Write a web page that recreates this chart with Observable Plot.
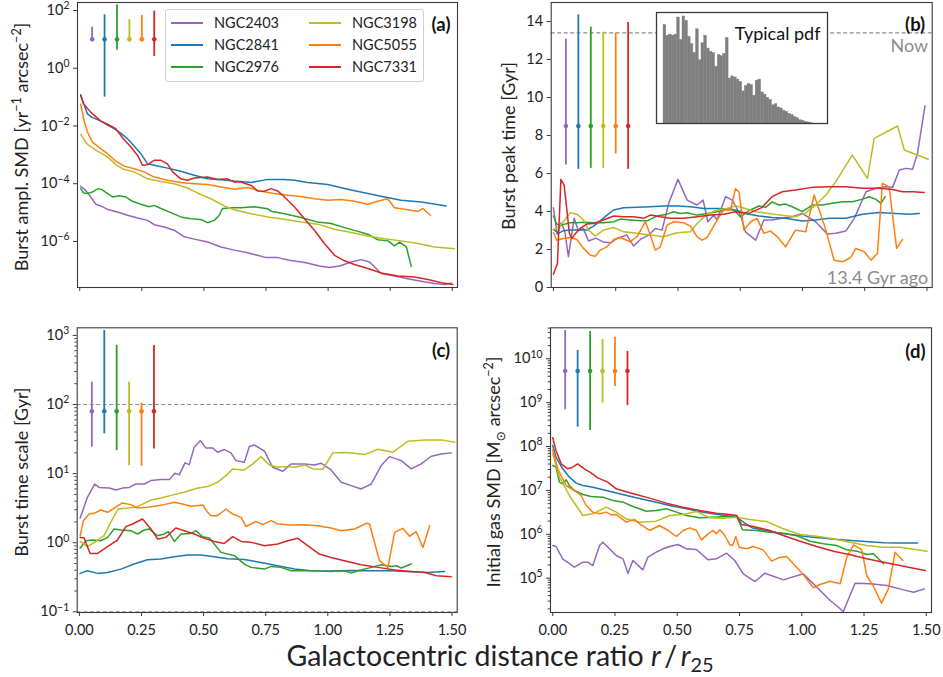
<!DOCTYPE html>
<html><head><meta charset="utf-8">
<script src="https://cdn.jsdelivr.net/npm/d3@7"></script>
<script src="https://cdn.jsdelivr.net/npm/@observablehq/plot@0.6"></script>
<style>
body{margin:0;background:#fff;}
#fig{position:relative;width:943px;height:677px;font-family:Lato,"DejaVu Sans",sans-serif;color:#222;overflow:hidden;background:#fff}
#fig svg{position:absolute;overflow:visible}
.ylab{position:absolute;white-space:nowrap;font-size:18px;transform:translate(-50%,-50%) rotate(-90deg);line-height:1}
.ylab sup,.ylab sub{font-size:0.7em}
#xlab{position:absolute;left:500px;top:657px;transform:translate(-50%,-50%);font-size:28.5px;white-space:nowrap}
#xlab sub{font-size:0.7em}
#legend{position:absolute;left:165px;top:9px;width:257px;height:71px;border:1px solid #d0d0d0;border-radius:3px;background:rgba(255,255,255,0.85)}
.lg{position:absolute;font-size:14.5px;line-height:1;transform:translateY(-50%);white-space:nowrap}
.sw{position:absolute;height:2px;transform:translateY(-50%)}
</style></head>
<body><div id="fig"></div>
<script>
// ---------- DATA ----------
const names  = ["NGC2403","NGC2841","NGC2976","NGC3198","NGC5055","NGC7331"];
const colors = ["#9467bd","#1f77b4","#2ca02c","#bcbd22","#ff7f0e","#d62728"];
const xTicks = [0, 0.25, 0.5, 0.75, 1.0, 1.25, 1.5];
const errX = [0.05, 0.10, 0.15, 0.20, 0.25, 0.30];

// (a) Burst amplitude SMD, values are log10
const aP = [[0.004,-4.09],[0.024,-4.23],[0.044,-4.46],[0.065,-4.71],[0.085,-4.77],[0.112,-4.89],[0.152,-4.98],[0.192,-5.09],[0.233,-5.19],[0.273,-5.27],[0.3,-5.42],[0.34,-5.5],[0.38,-5.61],[0.421,-5.84],[0.461,-5.92],[0.515,-6.02],[0.569,-6.19],[0.622,-6.3],[0.676,-6.39],[0.716,-6.48],[0.75,-6.56],[0.797,-6.56],[0.844,-6.65],[0.911,-6.74],[0.965,-6.85],[1.006,-6.9],[1.046,-6.85],[1.093,-6.71],[1.133,-6.63],[1.167,-6.71],[1.214,-7.11],[1.267,-7.2],[1.321,-7.29],[1.375,-7.38],[1.429,-7.46],[1.469,-7.49],[1.496,-7.44]];
const aB = [[0.004,-0.95],[0.031,-1.58],[0.05,-1.7],[0.085,-1.83],[0.112,-1.97],[0.138,-2.09],[0.165,-2.25],[0.192,-2.44],[0.22,-2.7],[0.246,-2.96],[0.273,-3.31],[0.313,-3.39],[0.353,-3.46],[0.407,-3.57],[0.461,-3.71],[0.515,-3.83],[0.569,-3.86],[0.622,-3.91],[0.69,-3.96],[0.757,-3.85],[0.824,-3.85],[0.864,-3.88],[0.918,-3.96],[0.999,-4.03],[1.079,-4.19],[1.16,-4.34],[1.227,-4.46],[1.294,-4.57],[1.375,-4.63],[1.476,-4.77]];
const aG = [[0.004,-4.17],[0.015,-4.32],[0.031,-4.34],[0.051,-4.29],[0.074,-4.17],[0.091,-4.21],[0.112,-4.34],[0.132,-4.46],[0.159,-4.42],[0.185,-4.46],[0.212,-4.61],[0.246,-4.71],[0.28,-4.8],[0.3,-4.75],[0.327,-4.86],[0.367,-5.0],[0.407,-5.15],[0.448,-5.21],[0.488,-5.24],[0.515,-5.35],[0.542,-5.27],[0.562,-5.09],[0.575,-4.86],[0.609,-4.83],[0.649,-4.83],[0.703,-4.8],[0.757,-4.87],[0.77,-4.95],[0.824,-5.04],[0.891,-5.17],[0.958,-5.33],[1.012,-5.38],[1.066,-5.52],[1.12,-5.65],[1.16,-5.75],[1.2,-5.94],[1.241,-5.98],[1.267,-6.15],[1.288,-6.02],[1.315,-6.19],[1.335,-6.86]];
const aY = [[0.004,-2.29],[0.031,-2.64],[0.071,-2.87],[0.112,-3.07],[0.145,-3.34],[0.179,-3.51],[0.219,-3.59],[0.273,-3.83],[0.327,-3.92],[0.38,-4.0],[0.434,-4.15],[0.474,-4.32],[0.528,-4.52],[0.582,-4.77],[0.622,-4.9],[0.69,-5.04],[0.757,-5.15],[0.824,-5.23],[0.891,-5.33],[0.958,-5.4],[1.026,-5.58],[1.093,-5.69],[1.16,-5.81],[1.227,-5.91],[1.294,-5.98],[1.362,-6.07],[1.429,-6.19],[1.509,-6.25]];
const aN = [[0.004,-1.25],[0.017,-1.81],[0.031,-2.21],[0.051,-2.56],[0.085,-2.79],[0.112,-2.96],[0.145,-3.22],[0.179,-3.39],[0.219,-3.48],[0.259,-3.59],[0.3,-3.77],[0.353,-3.88],[0.407,-3.96],[0.461,-4.0],[0.515,-4.03],[0.569,-4.11],[0.622,-4.19],[0.676,-4.13],[0.73,-4.26],[0.784,-4.34],[0.837,-4.4],[0.891,-4.44],[0.945,-4.52],[0.999,-4.57],[1.052,-4.55],[1.106,-4.61],[1.16,-4.71],[1.2,-4.61],[1.24,-4.52],[1.267,-4.83],[1.321,-4.9],[1.362,-4.96],[1.382,-4.86],[1.411,-5.09]];
const aR = [[0.004,-0.92],[0.015,-1.23],[0.044,-1.52],[0.085,-1.83],[0.112,-1.94],[0.145,-2.09],[0.172,-2.41],[0.206,-2.73],[0.233,-3.02],[0.253,-3.36],[0.273,-3.34],[0.3,-3.19],[0.327,-3.19],[0.353,-3.31],[0.374,-3.59],[0.407,-3.83],[0.434,-3.88],[0.461,-3.8],[0.515,-3.77],[0.555,-3.85],[0.595,-3.83],[0.622,-3.94],[0.649,-3.94],[0.69,-4.06],[0.716,-4.25],[0.743,-4.26],[0.77,-4.17],[0.797,-4.25],[0.824,-4.46],[0.864,-4.8],[0.905,-5.21],[0.945,-5.61],[0.985,-6.07],[1.026,-6.48],[1.066,-6.67],[1.106,-6.8],[1.16,-6.94],[1.214,-7.09],[1.281,-7.2],[1.348,-7.23],[1.402,-7.32],[1.456,-7.43],[1.503,-7.49]];
const errA = {c: 1, lo: [1, -1.0, 0.62, 1, 1, 0.41], hi: [1.42, 1.85, 2.2, 1.69, 1.83, 1.98]};
const aTicks = [-6, -4, -2, 0, 2];

// (b) Burst peak time [Gyr]
const bP = [[0,4.2],[0.015,2.8],[0.03,3.4],[0.045,3.0],[0.06,1.62],[0.083,3.64],[0.1,3.0],[0.12,3.1],[0.141,2.45],[0.17,2.6],[0.2,2.4],[0.23,2.35],[0.255,2.58],[0.295,2.76],[0.322,2.18],[0.349,2.53],[0.382,2.76],[0.409,3.11],[0.436,3.02],[0.463,4.43],[0.5,5.69],[0.537,4.6],[0.577,4.34],[0.601,4.6],[0.62,3.46],[0.644,3.81],[0.657,3.55],[0.691,4.78],[0.718,4.6],[0.751,3.81],[0.771,2.93],[0.812,2.49],[0.845,3.55],[0.878,3.55],[0.919,3.64],[0.959,3.72],[0.999,3.9],[1.053,3.46],[1.1,2.81],[1.134,2.85],[1.174,2.97],[1.208,3.64],[1.255,5.04],[1.295,5.22],[1.335,5.3],[1.362,5.27],[1.389,6.18],[1.415,6.27],[1.442,6.22],[1.462,7.06],[1.492,9.56]];
const bB = [[0,3.06],[0.02,2.85],[0.04,2.99],[0.067,3.02],[0.107,3.02],[0.134,3.02],[0.161,3.23],[0.188,3.51],[0.215,3.81],[0.242,4.08],[0.282,4.2],[0.335,4.22],[0.389,4.25],[0.443,4.29],[0.496,4.29],[0.55,4.25],[0.604,4.16],[0.657,4.16],[0.711,4.13],[0.751,4.0],[0.771,3.9],[0.825,3.76],[0.878,3.69],[0.932,3.64],[0.999,3.5],[1.053,3.55],[1.107,3.64],[1.174,3.64],[1.241,3.85],[1.308,3.95],[1.375,3.9],[1.429,3.85],[1.469,3.9]];
const bG = [[0,3.76],[0.013,3.34],[0.027,3.28],[0.047,3.34],[0.067,3.41],[0.094,3.41],[0.121,3.43],[0.161,3.41],[0.201,3.41],[0.242,3.46],[0.268,3.6],[0.309,3.55],[0.349,3.51],[0.376,3.51],[0.416,3.76],[0.456,3.86],[0.483,3.99],[0.51,3.9],[0.537,3.93],[0.577,3.81],[0.617,3.9],[0.657,3.99],[0.698,4.11],[0.724,4.08],[0.751,3.72],[0.785,4.04],[0.825,4.29],[0.852,4.22],[0.878,4.51],[0.905,4.34],[0.932,4.39],[0.959,4.25],[0.999,3.99],[1.04,4.34],[1.08,4.34],[1.12,4.43],[1.161,4.51],[1.201,4.51],[1.241,4.65],[1.268,4.78],[1.295,4.64],[1.315,4.43],[1.332,4.78]];
const bY = [[0,3.02],[0.027,3.28],[0.047,3.58],[0.067,3.93],[0.094,3.86],[0.121,3.55],[0.141,3.02],[0.168,2.71],[0.201,3.02],[0.242,3.16],[0.282,2.93],[0.335,2.85],[0.389,2.76],[0.443,2.67],[0.496,2.88],[0.55,2.93],[0.577,3.37],[0.617,3.86],[0.657,4.08],[0.698,4.16],[0.731,4.3],[0.771,4.16],[0.812,3.99],[0.865,3.9],[0.932,3.78],[0.972,3.72],[1.013,3.93],[1.053,4.34],[1.094,4.87],[1.134,5.57],[1.2,6.97],[1.261,5.74],[1.288,7.85],[1.382,8.5],[1.409,7.24],[1.505,6.75]];
const bN = [[0,2.88],[0.013,2.49],[0.04,2.58],[0.067,2.63],[0.094,2.53],[0.121,2.06],[0.148,1.7],[0.168,1.65],[0.188,1.97],[0.215,2.14],[0.242,2.53],[0.268,2.63],[0.309,2.41],[0.335,2.67],[0.369,3.46],[0.389,2.76],[0.409,1.97],[0.429,2.14],[0.456,3.28],[0.483,3.46],[0.523,3.41],[0.55,3.23],[0.577,2.67],[0.597,2.49],[0.617,2.63],[0.657,3.55],[0.684,4.08],[0.711,4.08],[0.731,5.2],[0.745,5.04],[0.765,3.02],[0.792,3.46],[0.818,3.64],[0.845,2.85],[0.872,2.97],[0.899,2.67],[0.932,2.14],[0.972,3.02],[1.013,2.93],[1.047,4.87],[1.094,3.02],[1.127,1.44],[1.161,1.35],[1.194,1.58],[1.214,2.06],[1.248,1.88],[1.275,1.44],[1.301,1.79],[1.321,5.48],[1.348,5.3],[1.378,2.06],[1.402,2.53]];
const bR = [[0,0.7],[0.016,1.26],[0.03,5.69],[0.043,5.39],[0.054,4.07],[0.064,2.85],[0.074,2.58],[0.087,2.81],[0.107,3.11],[0.134,3.34],[0.161,3.37],[0.201,3.55],[0.242,3.76],[0.282,3.72],[0.322,3.72],[0.362,3.64],[0.389,3.81],[0.429,3.72],[0.47,3.64],[0.523,3.64],[0.577,3.72],[0.631,3.81],[0.684,3.86],[0.731,3.99],[0.785,3.9],[0.838,4.22],[0.878,4.78],[0.919,5.04],[0.972,5.13],[1.04,5.27],[1.107,5.3],[1.174,5.3],[1.241,5.22],[1.308,5.22],[1.362,5.16],[1.402,5.04],[1.442,5.04],[1.489,5.0]];
const errB = {c: 8.5, lo: [6.45, 6.22, 6.27, 6.27, 7.03, 6.22], hi: [13.07, 14.35, 13.7, 13.44, 13.39, 13.95]};
const bTicks = [0, 2, 4, 6, 8, 10, 12, 14];
const nowAge = 13.4;
const pdfBins = [92,82,83,82,83,99,78,100,96,81,74,66,88,59,75,82,70,67,66,53,64,63,65,80,42,44,43,41,39,30,35,37,36,26,40,41,29,27,24,22,17,18,15,14,12,11,9,8,6,5,3,2.5,1.5,1,0.4];

// (c) Burst time scale [Gyr], log10
const cP = [[0.003,0.357],[0.032,0.657],[0.062,0.85],[0.079,0.8],[0.12,0.792],[0.147,0.763],[0.173,0.79],[0.2,0.8],[0.227,0.85],[0.261,0.85],[0.288,0.899],[0.328,0.913],[0.362,0.913],[0.384,1.005],[0.402,0.981],[0.425,1.155],[0.442,1.13],[0.462,1.38],[0.487,1.478],[0.509,1.372],[0.536,1.372],[0.556,1.309],[0.583,1.348],[0.61,1.3],[0.63,1.188],[0.664,1.164],[0.684,1.391],[0.704,1.415],[0.745,1.324],[0.778,1.092],[0.819,1.034],[0.852,1.14],[0.906,1.14],[0.946,1.125],[0.973,1.15],[1.013,1.053],[1.054,0.874],[1.094,0.826],[1.134,0.778],[1.175,0.85],[1.215,1.116],[1.249,1.246],[1.296,1.188],[1.336,1.068],[1.376,1.14],[1.417,1.251],[1.457,1.285],[1.497,1.3]];
const cB = [[0.003,-0.444],[0.032,-0.406],[0.073,-0.444],[0.113,-0.43],[0.167,-0.382],[0.22,-0.309],[0.274,-0.246],[0.328,-0.237],[0.382,-0.203],[0.435,-0.179],[0.489,-0.179],[0.543,-0.203],[0.597,-0.232],[0.664,-0.242],[0.731,-0.285],[0.798,-0.333],[0.866,-0.382],[0.933,-0.406],[1.013,-0.411],[1.094,-0.401],[1.175,-0.406],[1.255,-0.406],[1.336,-0.42],[1.403,-0.43],[1.47,-0.415]];
const cG = [[0.003,-0.077],[0.026,0.029],[0.052,0.039],[0.086,0.029],[0.113,0.077],[0.14,0.198],[0.167,0.184],[0.207,0.174],[0.234,0.126],[0.261,0.184],[0.281,0.198],[0.315,0.101],[0.341,0.126],[0.358,0.159],[0.382,0.019],[0.409,0.126],[0.449,0.135],[0.469,0.174],[0.496,0.087],[0.523,0.068],[0.57,-0.14],[0.624,-0.188],[0.664,-0.309],[0.691,-0.357],[0.745,-0.382],[0.772,-0.343],[0.812,-0.357],[0.852,-0.406],[0.933,-0.406],[1.013,-0.415],[1.067,-0.406],[1.094,-0.44],[1.121,-0.406],[1.175,-0.357],[1.215,-0.319],[1.255,-0.343],[1.276,-0.333],[1.296,-0.367],[1.336,-0.309]];
const cY = [[0.003,0.019],[0.032,-0.058],[0.066,0.019],[0.099,0.101],[0.126,0.295],[0.156,0.488],[0.194,0.502],[0.227,0.512],[0.261,0.57],[0.288,0.618],[0.328,0.647],[0.382,0.696],[0.435,0.744],[0.476,0.792],[0.516,0.812],[0.556,0.874],[0.59,0.971],[0.617,1.068],[0.664,1.053],[0.698,1.14],[0.731,1.246],[0.765,1.125],[0.798,1.092],[0.832,1.101],[0.866,1.092],[0.906,1.125],[0.94,1.068],[0.98,1.063],[1.02,1.3],[1.067,1.304],[1.108,1.295],[1.148,1.275],[1.202,1.353],[1.262,1.309],[1.323,1.469],[1.39,1.488],[1.457,1.488],[1.511,1.454]];
const cN = [[0.003,0.101],[0.016,0.319],[0.039,0.415],[0.059,0.425],[0.086,0.473],[0.113,0.44],[0.14,0.502],[0.173,0.575],[0.207,0.551],[0.234,0.502],[0.274,0.512],[0.315,0.536],[0.341,0.551],[0.382,0.585],[0.415,0.56],[0.449,0.527],[0.496,0.546],[0.516,0.44],[0.53,0.391],[0.556,0.391],[0.59,0.488],[0.617,0.415],[0.651,0.367],[0.671,0.232],[0.691,0.271],[0.711,0.309],[0.738,0.261],[0.772,0.319],[0.798,0.271],[0.852,0.256],[0.906,0.261],[0.96,0.246],[1.013,0.213],[1.054,0.174],[1.108,0.198],[1.155,0.28],[1.168,0.271],[1.208,-0.26],[1.242,-0.357],[1.269,0.15],[1.302,0.208],[1.329,0.092],[1.356,0.159],[1.383,-0.068],[1.41,0.246]];
const cR = [[0.003,0.077],[0.019,0.068],[0.043,-0.155],[0.073,-0.155],[0.113,-0.058],[0.153,0.039],[0.187,0.232],[0.214,0.271],[0.254,0.343],[0.288,0.198],[0.315,0.053],[0.348,0.077],[0.388,0.213],[0.422,0.174],[0.462,0.126],[0.503,0.063],[0.543,0.019],[0.583,-0.01],[0.617,0.087],[0.651,0.019],[0.691,0.005],[0.745,-0.043],[0.798,-0.019],[0.839,0.029],[0.879,0.063],[0.919,-0.043],[0.966,-0.164],[1.013,-0.213],[1.067,-0.261],[1.134,-0.319],[1.202,-0.357],[1.269,-0.396],[1.336,-0.415],[1.39,-0.43],[1.437,-0.478],[1.497,-0.493]];
const errC = {c: 1.903, lo: [1.382, 1.575, 1.333, 1.116, 1.106, 1.357], hi: [2.324, 3.07, 2.855, 2.324, 2.02, 2.855]};
const cTicks = [-1, 0, 1, 2, 3];
const cLimits = [0.1, 100];

// (d) Initial gas SMD, log10
const dP = [[0,5.745],[0.013,5.722],[0.04,5.441],[0.087,5.251],[0.121,5.365],[0.141,5.365],[0.161,5.289],[0.188,5.745],[0.201,5.821],[0.228,5.669],[0.255,5.517],[0.282,5.441],[0.302,5.114],[0.322,5.403],[0.362,5.19],[0.382,5.479],[0.416,5.593],[0.443,5.669],[0.47,5.722],[0.503,5.767],[0.537,5.669],[0.577,5.653],[0.624,5.418],[0.657,5.441],[0.698,5.57],[0.731,5.403],[0.765,5.099],[0.812,4.924],[0.852,5.114],[0.926,4.962],[1.006,5.099],[1.047,4.871],[1.114,4.491],[1.134,4.4],[1.167,4.24],[1.214,4.886],[1.275,4.871],[1.342,4.833],[1.409,4.734],[1.449,4.681],[1.492,4.757]];
const dB = [[0,8.024],[0.013,7.758],[0.04,7.492],[0.067,7.302],[0.094,7.166],[0.121,7.112],[0.161,7.074],[0.215,6.998],[0.268,6.922],[0.335,6.831],[0.403,6.748],[0.47,6.657],[0.537,6.581],[0.604,6.505],[0.671,6.444],[0.738,6.391],[0.77,6.26],[0.8,6.15],[0.87,6.07],[0.93,6.01],[1.0,5.96],[1.07,5.92],[1.13,5.89],[1.2,5.86],[1.27,5.83],[1.33,5.81],[1.4,5.8],[1.465,5.8]];
const dG = [[0,7.568],[0.013,7.53],[0.027,7.188],[0.04,7.15],[0.054,7.242],[0.067,7.112],[0.087,6.998],[0.121,6.907],[0.154,6.862],[0.201,6.847],[0.242,6.771],[0.282,6.733],[0.322,6.634],[0.376,6.527],[0.416,6.543],[0.456,6.581],[0.497,6.505],[0.537,6.429],[0.59,6.375],[0.644,6.391],[0.698,6.406],[0.738,6.429],[0.762,6.102],[0.818,6.087],[0.872,6.049],[0.926,6.026],[0.979,5.973],[1.033,5.843],[1.087,5.783],[1.14,5.745],[1.181,5.646],[1.221,5.616],[1.261,5.54],[1.288,5.555],[1.328,5.327]];
const dY = [[0,7.834],[0.027,7.302],[0.067,6.884],[0.094,6.657],[0.121,6.429],[0.161,6.467],[0.215,6.619],[0.255,6.505],[0.295,6.353],[0.349,6.277],[0.416,6.299],[0.47,6.429],[0.523,6.451],[0.577,6.52],[0.631,6.375],[0.684,6.368],[0.738,6.391],[0.792,6.337],[0.859,6.292],[0.926,6.125],[0.993,5.995],[1.06,5.957],[1.127,5.897],[1.194,5.821],[1.261,5.745],[1.328,5.707],[1.395,5.707],[1.463,5.646],[1.503,5.616]];
const dN = [[0,7.926],[0.02,7.492],[0.054,7.112],[0.087,6.998],[0.114,6.884],[0.134,6.657],[0.161,6.505],[0.188,6.467],[0.215,6.505],[0.235,6.444],[0.255,6.451],[0.295,6.277],[0.329,6.337],[0.349,6.239],[0.389,6.087],[0.429,6.201],[0.463,6.087],[0.497,5.95],[0.523,6.087],[0.55,6.147],[0.577,6.087],[0.597,5.874],[0.624,6.011],[0.644,6.087],[0.657,6.011],[0.671,6.102],[0.691,5.973],[0.711,5.767],[0.722,5.745],[0.735,5.95],[0.749,5.707],[0.778,5.669],[0.805,5.722],[0.845,5.646],[0.879,5.388],[0.906,5.464],[0.939,5.494],[0.979,5.251],[1.006,5.084],[1.047,4.78],[1.073,4.856],[1.114,4.932],[1.154,4.871],[1.181,5.479],[1.208,5.76],[1.241,5.646],[1.261,5.061],[1.288,4.81],[1.32,4.43],[1.348,4.757],[1.375,5.593],[1.406,5.403]];
const dR = [[0,8.199],[0.013,7.91],[0.034,7.606],[0.06,7.492],[0.08,7.53],[0.1,7.606],[0.127,7.492],[0.154,7.401],[0.181,7.287],[0.221,7.188],[0.255,7.036],[0.288,6.983],[0.335,6.907],[0.389,6.824],[0.456,6.71],[0.523,6.619],[0.59,6.543],[0.657,6.482],[0.711,6.451],[0.738,6.429],[0.758,6.223],[0.805,6.178],[0.872,6.087],[0.926,5.973],[0.993,5.843],[1.06,5.722],[1.127,5.616],[1.194,5.532],[1.261,5.441],[1.328,5.365],[1.395,5.289],[1.449,5.228],[1.496,5.175]];
const errD = {c: 9.72, lo: [8.837, 8.442, 8.366, 8.99, 9.37, 8.936], hi: [10.646, 10.19, 10.623, 10.44, 10.49, 10.167]};
const dTicks = [5, 6, 7, 8, 9, 10];

// ---------- DRAWING ----------
const FONT = "Lato, 'DejaVu Sans', sans-serif";
const fig = document.getElementById("fig");
const AX = "#3a3a3a";

function rowsOf(series, log) {
  const rows = [];
  series.forEach((pts, i) => pts.forEach(([x, v]) => rows.push({x, y: log ? 10 ** v : v, s: names[i]})));
  return rows;
}
function errRowsOf(err, log) {
  const f = v => log ? 10 ** v : v;
  return names.map((s, i) => ({s, x: errX[i], c: f(err.c), lo: f(err.lo[i]), hi: f(err.hi[i])}));
}
function minorOf(ydom) {
  const out = [];
  for (let k = Math.floor(ydom[0]); k <= Math.ceil(ydom[1]); k++)
    for (let m = 2; m <= 9; m++) {
      const v = m * 10 ** k;
      if (Math.log10(v) > ydom[0] && Math.log10(v) < ydom[1]) out.push(v);
    }
  return out;
}
function supTicks(svg) {
  svg.querySelectorAll("text").forEach(t => {
    const m = /^10\^(.+)$/.exec(t.textContent);
    if (m) {
      t.textContent = "10";
      const ts = document.createElementNS("http://www.w3.org/2000/svg", "tspan");
      ts.setAttribute("dy", "-0.55em");
      ts.setAttribute("font-size", "0.72em");
      ts.textContent = m[1].replace("-", "\u2212");
      t.appendChild(ts);
    }
  });
}

function panel(p) {
  const log = p.log;
  const marks = [];
  if (p.refs) marks.push(Plot.ruleY(p.refs, {stroke: "#8c8c8c", strokeDasharray: "4,2.5", strokeWidth: 1.2}));
  marks.push(Plot.line(rowsOf(p.series, log), {x: "x", y: "y", z: "s", stroke: "s", strokeWidth: 1.5}));
  const er = errRowsOf(p.err, log);
  marks.push(Plot.ruleX(er, {x: "x", y1: "lo", y2: "hi", stroke: "s", strokeWidth: 1.8}));
  marks.push(Plot.dot(er, {x: "x", y: "c", fill: "s", r: 2.3}));
  if (p.extra) marks.push(...p.extra);
  marks.push(Plot.frame({stroke: AX, strokeWidth: 1.1}));
  marks.push(Plot.axisX({ticks: xTicks, tickSize: 4, tickPadding: 8, stroke: AX,
    tickFormat: p.showX ? d3.format(".2f") : () => "", label: null}));
  marks.push(Plot.axisY({ticks: log ? p.yticks.map(k => 10 ** k) : p.yticks, tickSize: 4, tickPadding: 4, stroke: AX,
    tickFormat: log ? (d => "10^" + Math.round(Math.log10(d))) : (d => String(d)), label: null}));
  if (p.minor) marks.push(Plot.axisY({ticks: minorOf(p.ydom), tickSize: 2.3, stroke: AX, tickFormat: () => "", label: null}));
  marks.push(Plot.text([p.label], {text: d => d, frameAnchor: "top-right", dx: p.ldx, dy: p.ldy, fontWeight: "bold", fontSize: 18.5, fill: "#111"}));
  const svg = Plot.plot({
    width: p.width, height: p.height,
    marginLeft: p.ml, marginRight: p.mr, marginTop: p.mt, marginBottom: p.mb,
    style: {background: "transparent", fontFamily: FONT, fontSize: "14.5px", color: "#222", overflow: "visible"},
    x: {domain: [-0.009, 1.521]},
    y: log ? {type: "log", domain: p.ydom.map(k => 10 ** k)} : {domain: p.ydom},
    color: {domain: names, range: colors},
    marks
  });
  svg.style.left = p.left + "px";
  svg.style.top = p.top + "px";
  supTicks(svg);
  fig.appendChild(svg);
}

panel({label: "(a)", left: 0, top: 0, width: 470, height: 320, ml: 77, mr: 13, mt: 2, mb: 33, ldx: -7, ldy: 15,
  log: true, ydom: [-7.595, 2.277], yticks: aTicks, series: [aP, aB, aG, aY, aN, aR], err: errA, showX: false});

panel({label: "(b)", left: 470, top: 0, width: 473, height: 320, ml: 80.7, mr: 11.3, mt: 2, mb: 33, ldx: -7, ldy: 15,
  log: false, ydom: [0, 15], yticks: bTicks, series: [bP, bB, bG, bY, bN, bR], err: errB, showX: false,
  refs: [nowAge, 0],
  extra: [
    Plot.text(["Now"], {text: d => d, x: 1.505, y: nowAge, textAnchor: "end", dy: 13, fill: "#8c8c8c", fontSize: 18}),
    Plot.text([nowAge + " Gyr ago"], {text: d => d, x: 1.505, y: 0, textAnchor: "end", dy: -9.5, fill: "#8c8c8c", fontSize: 18})
  ]});

panel({label: "(c)", left: 0, top: 320, width: 470, height: 357, ml: 76.7, mr: 13.3, mt: 7.3, mb: 65, ldx: -7, ldy: 16,
  log: true, ydom: [-1.01, 3.11], yticks: cTicks, minor: true, series: [cP, cB, cG, cY, cN, cR], err: errC, showX: true,
  refs: cLimits});

panel({label: "(d)", left: 470, top: 320, width: 473, height: 357, ml: 80, mr: 12, mt: 7.3, mb: 65, ldx: -6, ldy: 17,
  log: true, ydom: [4.218, 10.706], yticks: dTicks, minor: true, series: [dP, dB, dG, dY, dN, dR], err: errD, showX: true});

// inset histogram ("Typical pdf")
const inset = Plot.plot({
  width: 171, height: 111, margin: 0,
  style: {background: "#fff", fontFamily: FONT, overflow: "visible", color: "#222"},
  x: {domain: [-2.6, 60.5], axis: null},
  y: {domain: [0, 103.7], axis: null},
  marks: [
    Plot.rect(pdfBins, {x1: (d, i) => i, x2: (d, i) => i + 1, y1: 0, y2: d => d, fill: "#7f7f7f", stroke: "#7f7f7f", strokeWidth: 0.4, inset: 0}),
    Plot.frame({stroke: AX, strokeWidth: 1.3}),
    Plot.text(["Typical pdf"], {text: d => d, frameAnchor: "top-right", dx: -7, dy: 15, fontSize: 18, fill: "#111"})
  ]
});
inset.style.left = "655.7px";
inset.style.top = "12.3px";
fig.appendChild(inset);

// y labels
const ylabs = [
  {html: "Burst ampl. SMD [yr<sup>\u22121</sup> arcsec<sup>\u22122</sup>]", x: 20, y: 147},
  {html: "Burst peak time [Gyr]", x: 508, y: 146},
  {html: "Burst time scale [Gyr]", x: 21, y: 472},
  {html: "Initial gas SMD [M<sub>\u2299</sub> arcsec<sup>\u22122</sup>]", x: 495, y: 472}
];
ylabs.forEach(l => {
  const d = document.createElement("div");
  d.className = "ylab";
  d.innerHTML = l.html;
  d.style.left = l.x + "px";
  d.style.top = l.y + "px";
  fig.appendChild(d);
});

// x label
const xl = document.createElement("div");
xl.id = "xlab";
xl.innerHTML = "Galactocentric distance ratio <i>r</i>\u2009/\u2009<i>r</i><sub>25</sub>";
fig.appendChild(xl);

// legend
const lg = document.createElement("div");
lg.id = "legend";
names.forEach((n, i) => {
  const col = Math.floor(i / 3), row = i % 3;
  const cy = 12.7 + row * 22.3;
  const sw = document.createElement("div");
  sw.className = "sw";
  sw.style.left = (5 + col * 138) + "px";
  sw.style.width = "32px";
  sw.style.top = cy + "px";
  sw.style.background = colors[i];
  lg.appendChild(sw);
  const t = document.createElement("div");
  t.className = "lg";
  t.style.left = (48 + col * 138) + "px";
  t.style.top = cy + "px";
  t.textContent = n;
  lg.appendChild(t);
});
fig.appendChild(lg);
</script>
</body></html>
